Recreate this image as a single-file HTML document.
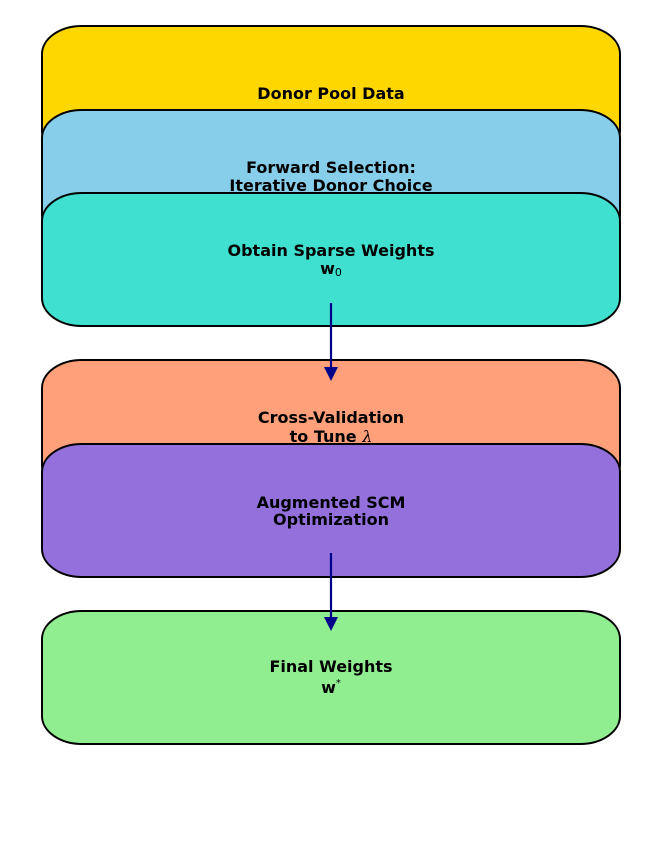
<!DOCTYPE html>
<html><head><meta charset="utf-8"><style>
html,body{margin:0;padding:0;background:#fff;}
text{font-family:"DejaVu Sans","Liberation Sans",sans-serif;font-weight:bold;font-size:16px;text-anchor:middle;fill:#000;}
</style></head><body>
<svg width="662" height="854" viewBox="0 0 662 854" xmlns="http://www.w3.org/2000/svg">
<g stroke="#000" stroke-width="2">
<rect x="42" y="26" width="578" height="133" rx="40" ry="28" fill="#FFD700"/>
<rect x="42" y="110" width="578" height="133" rx="40" ry="28" fill="#87CEEB"/>
<rect x="42" y="193" width="578" height="133" rx="40" ry="28" fill="#40E0D0"/>
<rect x="42" y="360" width="578" height="133" rx="40" ry="28" fill="#FFA07A"/>
<rect x="42" y="444" width="578" height="133" rx="40" ry="28" fill="#9370DB"/>
<rect x="42" y="611" width="578" height="133" rx="40" ry="28" fill="#90EE90"/>
</g>
<text x="331" y="99">Donor Pool Data</text>
<text x="331" y="173">Forward Selection:</text>
<text x="331" y="191">Iterative Donor Choice</text>
<text x="331" y="256">Obtain Sparse Weights</text>
<text x="331" y="274">w<tspan font-weight="normal" font-size="11" dy="2">0</tspan></text>
<text x="331" y="423">Cross-Validation</text>
<text x="331" y="442">to Tune <tspan font-family="DejaVu Serif" font-style="italic" font-weight="normal">λ</tspan></text>
<text x="331" y="508">Augmented SCM</text>
<text x="331" y="525">Optimization</text>
<text x="331" y="672">Final Weights</text>
<text x="331" y="693">w<tspan font-weight="normal" font-size="10" dy="-7">*</tspan></text>
<g stroke="#00008B" stroke-width="2.2" fill="#00008B">
<line x1="331" y1="303" x2="331" y2="370"/>
<polygon points="324,367 338,367 331,381" stroke="none"/>
<line x1="331" y1="553" x2="331" y2="620"/>
<polygon points="324,617 338,617 331,631" stroke="none"/>
</g>
</svg>
</body></html>
